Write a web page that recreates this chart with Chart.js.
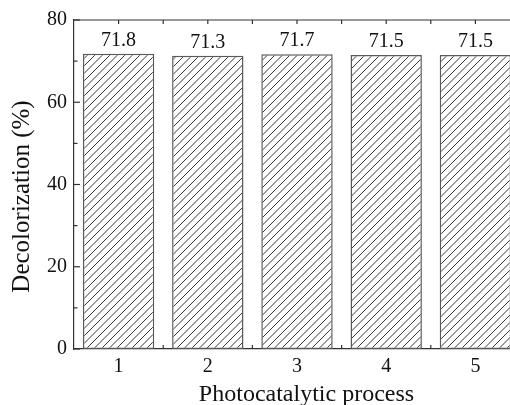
<!DOCTYPE html>
<html><head><meta charset="utf-8">
<script src="https://cdn.jsdelivr.net/npm/chart.js@4.4.1/dist/chart.umd.min.js"></script>
<style>html,body{margin:0;padding:0;overflow:hidden;background:#fff;width:510px;height:405px}</style>
</head><body>
<canvas id="c" width="540" height="405" style="width:540px;height:405px;display:block"></canvas>
<script>
const categories = ['1', '2', '3', '4', '5'];
const decolorization = [71.8, 71.3, 71.7, 71.5, 71.5];
const yTicks = [0, 20, 40, 60, 80];
const yMinorTicks = [10, 30, 50, 70];
const xTitle = 'Photocatalytic process';
const yTitle = 'Decolorization (%)';

const FONT = "'Liberation Serif', 'DejaVu Serif', serif";
const canvas = document.getElementById('c');
const ctx0 = canvas.getContext('2d');

function hatchPattern() {
  const T = 15;
  const t = document.createElement('canvas');
  t.width = T; t.height = T;
  const g = t.getContext('2d');
  g.fillStyle = '#fff'; g.fillRect(0, 0, T, T);
  g.strokeStyle = '#222'; g.lineWidth = 0.9;
  for (let x0 = -T; x0 <= T; x0 += T / 2) {
    g.beginPath(); g.moveTo(x0, T); g.lineTo(x0 + T, 0); g.stroke();
  }
  return ctx0.createPattern(t, 'repeat');
}

function seg(ctx, x1, y1, x2, y2) {
  ctx.beginPath(); ctx.moveTo(x1, y1); ctx.lineTo(x2, y2); ctx.stroke();
}

const framePlugin = {
  id: 'frame',
  beforeDatasetsDraw(chart) {
    const {ctx, chartArea: a, scales: {x, y}} = chart;
    ctx.save();
    ctx.strokeStyle = '#333'; ctx.lineWidth = 1.2;
    yTicks.forEach(v => { const py = y.getPixelForValue(v); seg(ctx, a.left, py, a.left + 6, py); });
    yMinorTicks.forEach(v => { const py = y.getPixelForValue(v); seg(ctx, a.left, py, a.left + 3.5, py); });
    const half = (x.getPixelForValue(1) - x.getPixelForValue(0)) / 2;
    categories.forEach((c, i) => {
      const cx = x.getPixelForValue(i);
      [cx, cx + half].forEach(px => {
        seg(ctx, px, a.bottom, px, a.bottom - 4);
        seg(ctx, px, a.top, px, a.top + 4);
      });
    });
    seg(ctx, a.left, a.top, a.right, a.top);
    ctx.restore();
  },
  afterDatasetsDraw(chart) {
    const {ctx} = chart;
    const meta = chart.getDatasetMeta(0);
    ctx.save();
    ctx.fillStyle = '#111';
    ctx.font = "20px " + FONT;
    ctx.textAlign = 'center';
    ctx.textBaseline = 'alphabetic';
    meta.data.forEach((bar, i) => {
      ctx.fillText(decolorization[i].toFixed(1), bar.x, bar.y - 8);
    });
    // axis titles
    ctx.font = "24px " + FONT;
    ctx.textBaseline = 'middle';
    ctx.fillText(xTitle, 306.5, 395);
    ctx.save();
    ctx.translate(22, 196.5);
    ctx.rotate(-Math.PI / 2);
    ctx.font = "25px " + FONT;
    ctx.fillText(yTitle, 0, 0);
    ctx.restore();
    ctx.restore();
  }
};

new Chart(canvas, {
  type: 'bar',
  data: {
    labels: categories,
    datasets: [{
      data: decolorization,
      backgroundColor: hatchPattern(),
      borderColor: '#5a5a5a',
      borderWidth: 1.5,
      borderSkipped: false,
      barPercentage: 0.8,
      categoryPercentage: 1.0
    }]
  },
  options: {
    responsive: false,
    animation: false,
    layout: {padding: {top: 20, right: 20, left: 0, bottom: 0}},
    plugins: {legend: {display: false}, tooltip: {enabled: false}},
    scales: {
      x: {
        offset: true,
        grid: {display: false, drawTicks: false},
        border: {display: true, color: '#333', width: 1.2},
        ticks: {color: '#111', font: {family: FONT, size: 20}, padding: 6},
        title: {display: false},
        afterFit(s) { s.height = 56; }
      },
      y: {
        min: 0, max: 80,
        afterBuildTicks(s) { s.ticks = yTicks.map(v => ({value: v})); },
        grid: {display: false, drawTicks: false},
        border: {display: true, color: '#333', width: 1.2},
        ticks: {color: '#111', font: {family: FONT, size: 20}, padding: 7},
        title: {display: false},
        afterFit(s) { s.width = 74; }
      }
    }
  },
  plugins: [framePlugin]
});
</script>
</body></html>
